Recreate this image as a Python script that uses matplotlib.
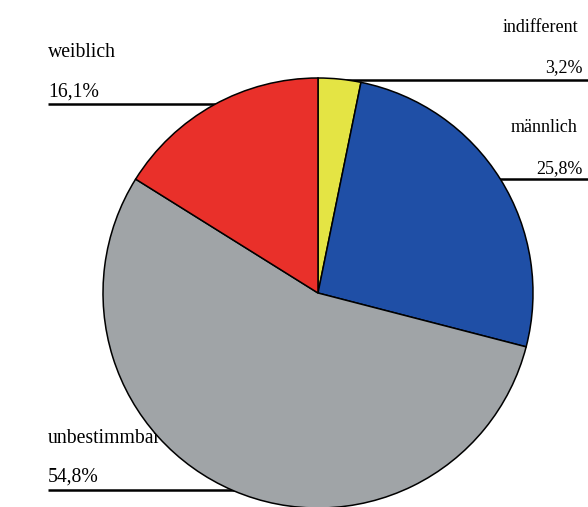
import matplotlib.pyplot as plt

# Data
labels = ["indifferent", "männlich", "unbestimmbar", "weiblich"]
shares = [3.2, 25.8, 54.8, 16.1]
pct_text = ["3,2%", "25,8%", "54,8%", "16,1%"]
colors = ["#E4E444", "#1F4FA6", "#A0A4A7", "#E9302A"]

W, H = 588, 507
fig = plt.figure(figsize=(W / 100, H / 100), dpi=100)
ax = fig.add_axes([0, 0, 1, 1])

# pie, clockwise from the top
ax.pie(
    shares,
    colors=colors,
    startangle=90,
    counterclock=False,
    center=(318, H - 293),
    radius=215,
    wedgeprops=dict(edgecolor="black", linewidth=1.1, zorder=2),
    frame=True,
)
ax.set_xlim(0, W)
ax.set_ylim(0, H)
ax.set_aspect("equal")
ax.axis("off")

# label layout: (name x, name baseline, pct baseline, line y, line x0, line x1, align)
layout = {
    "indifferent": (578, 32, 72, 80, 318, 588, "right"),
    "männlich": (578, 132, 173, 179, 480, 588, "right"),
    "unbestimmbar": (48, 443, 482, 490, 48, 300, "left"),
    "weiblich": (48, 57, 97, 104, 48, 300, "left"),
}

font = ["Liberation Serif", "DejaVu Serif"]
for name, pct in zip(labels, pct_text):
    x, yb1, yb2, yl, x0, x1, ha = layout[name]
    size = 13 if ha == "right" else 14.2
    # text sits behind the pie (the last letter of "unbestimmbar" is hidden)
    ax.text(x, H - yb1, name, ha=ha, va="baseline", fontsize=size, family=font, zorder=1)
    x_pct = x + 5 if ha == "right" else x
    ax.text(x_pct, H - yb2, pct, ha=ha, va="baseline", fontsize=size, family=font, zorder=1)
    ax.plot([x0, x1], [H - yl, H - yl], color="black", lw=1.8, zorder=0,
            solid_capstyle="butt")

fig.savefig("out.png", dpi=100)
